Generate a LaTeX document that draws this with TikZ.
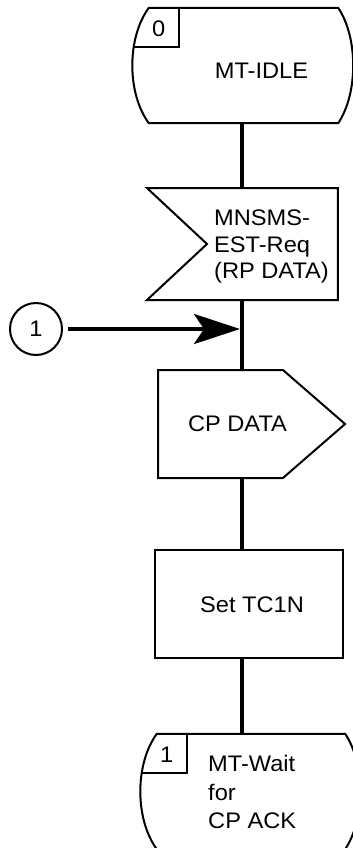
\documentclass[tikz,border=0pt]{standalone}
\usepackage{fontspec}
\setmainfont{Liberation Sans}[FakeStretch=1.05]
\usetikzlibrary{shapes.symbols,arrows.meta,calc}

\begin{document}
\begin{tikzpicture}
[   x=1pt,y=-1pt,
    every node/.style={font=\fontsize{22.5}{28}\selectfont},
    box/.style={draw=black,line width=2pt,inner sep=0pt},
    statebox/.style={inner sep=0pt,minimum width=#1,minimum height=115pt},
    txt/.style={inner sep=0pt,align=left},
    flow/.style={line width=4pt},
]
    \useasboundingbox (0,0) rectangle (353,848);
    \node[statebox=189pt] (st0) at (243.5,65.5) {};
    \node[statebox=188pt] (st1) at (251,791.5) {};
    \node[txt] (st0-txt) at (261.5,70.5) {MT-IDLE};
    \node[txt,anchor=north west,font=\fontsize{22.5}{28.5}\selectfont] (st1-txt) at (208,755) {MT-Wait\\for\\CP ACK};
    \node[box,signal,signal to=nowhere,signal from=west,signal pointer angle=86,
          minimum width=191pt,minimum height=112pt] (req) at (272.5,244) {};
    \node[txt,anchor=north west,font=\fontsize{22.5}{26.5}\selectfont] (req-txt) at (214,210) {MNSMS-\\EST-Req\\(RP DATA)};
    \node[box,signal,signal to=east,signal pointer angle=82,
          minimum width=187pt,minimum height=108pt] (cpd) at (220.5,424) {};
    \node[txt] (cpd-txt) at (237.5,423.5) {CP DATA};
    \node[box,minimum width=188pt,minimum height=108pt] (tc1n) at (249,604) {};
    \node[txt] (tc1n-txt) at (252,605) {Set TC1N};
    \node[draw=black,line width=2pt,circle,minimum size=52pt,inner sep=0pt] (con) at (36,329) {1};
    \coordinate (jn) at (242,329);
    % states
    \foreach \s/\n in {st0/0,st1/1}
    {   \draw[line width=2pt] (\s.north west) -- (\s.north east)
            .. controls +(20,30) and +(20,-30) .. (\s.south east) -- (\s.south west)
            .. controls +(-22,-30) and +(-22,30) .. (\s.north west) -- cycle;
        \draw[line width=2pt] ($(\s.north west)+(30,0)$) |- ($(\s.north west)+(-15,39)$);
        \node (\s-num) at ($(\s.north west)+(10,21)$) {\n};
    }
    % trunk
    \foreach \a/\b in {st0/req,req/cpd,cpd/tc1n,tc1n/st1}
    {   \draw[flow] (\a.south -| jn) -- (\b.north -| jn);
    }
    \draw[flow,-{Stealth[length=46pt,width=30pt,inset=10pt]},shorten <=5pt,shorten >=2pt] (con) -- (jn);
\end{tikzpicture}
\end{document}
